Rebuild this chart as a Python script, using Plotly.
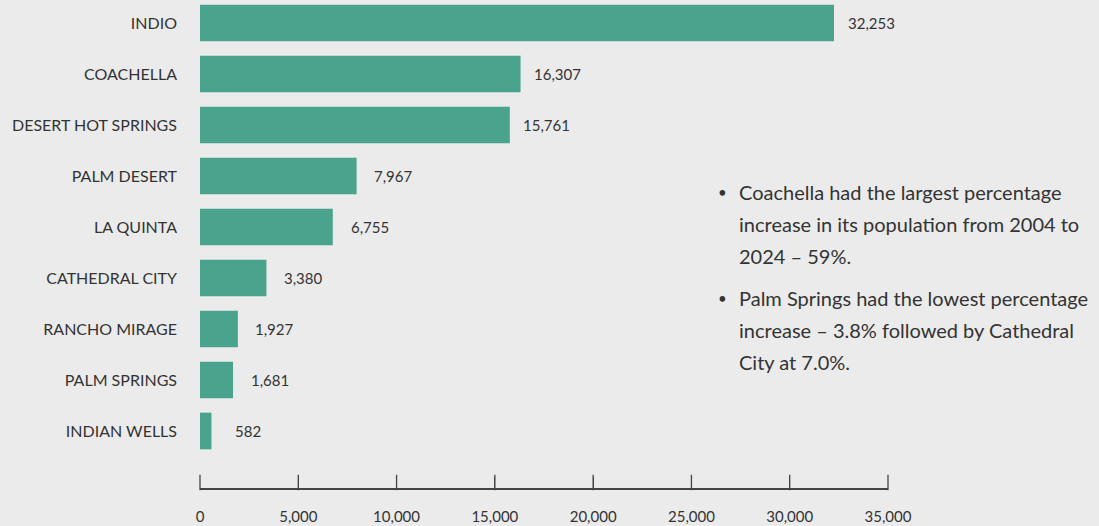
import plotly.graph_objects as go

cities = ["INDIO", "COACHELLA", "DESERT HOT SPRINGS", "PALM DESERT", "LA QUINTA",
          "CATHEDRAL CITY", "RANCHO MIRAGE", "PALM SPRINGS", "INDIAN WELLS"]
growth = [32253, 16307, 15761, 7967, 6755, 3380, 1927, 1681, 582]
x_ticks = [0, 5000, 10000, 15000, 20000, 25000, 30000, 35000]

bullet_lines = [
    ["Coachella had the largest percentage",
     "increase in its population from 2004 to",
     "2024 – 59%."],
    ["Palm Springs had the lowest percentage",
     "increase – 3.8% followed by Cathedral",
     "City at 7.0%."],
]

FONT = "Lato, Open Sans, sans-serif"
BG = "#ebebeb"
TXT = "#333333"
AXC = "#444444"
TICKLEN = 11

W, H = 1099, 526
L, R, T, B = 200, 211, 0, 38
PW, PH = W - L - R, H - T - B


def px_x(x):
    return (x - L) / PW


def px_y(y):
    return (H - B - y) / PH


fig = go.Figure()
fig.add_trace(go.Bar(
    x=growth, y=cities, orientation="h",
    marker=dict(color="#4aa38c", line=dict(width=0)),
    hoverinfo="x+y",
))
# upward tick marks on the x axis (y2 is a hidden pixel-scaled axis)
fig.add_trace(go.Scatter(
    x=x_ticks, y=[TICKLEN / 2] * len(x_ticks), yaxis="y2", mode="markers",
    marker=dict(symbol="line-ns", size=TICKLEN, line=dict(width=1.3, color=AXC)),
    hoverinfo="skip", cliponaxis=False,
))

annotations = []
for c, v in zip(cities, growth):
    annotations.append(dict(x=v, y=c, xref="x", yref="y", text=f"{v:,}",
                            showarrow=False, xanchor="center", xshift=37,
                            font=dict(family=FONT, size=15, color=TXT)))

y0 = 192
for block_i, block in enumerate(bullet_lines):
    for li, line in enumerate(block):
        ypix = y0 + block_i * 106 + li * 32
        annotations.append(dict(x=px_x(737), y=px_y(ypix), xref="paper", yref="paper",
                                text=line, showarrow=False, xanchor="left", yanchor="middle",
                                font=dict(family=FONT, size=20, color=TXT)))
    annotations.append(dict(x=px_x(722), y=px_y(y0 + block_i * 106), xref="paper", yref="paper",
                            text="•", showarrow=False, xanchor="center", yanchor="middle",
                            font=dict(family=FONT, size=15, color=TXT)))

fig.update_layout(
    width=W, height=H,
    margin=dict(l=L, r=R, t=T, b=B, pad=0, autoexpand=False),
    paper_bgcolor=BG, plot_bgcolor=BG,
    bargap=0.28,
    showlegend=False,
    font=dict(family=FONT, color=TXT),
    annotations=annotations,
    xaxis=dict(range=[0, 35000], tickmode="array", tickvals=x_ticks, tickformat=",d",
               showgrid=False, zeroline=False, automargin=False,
               showline=True, linecolor=AXC, linewidth=1.5,
               ticks="inside", ticklen=TICKLEN, tickwidth=1.3, tickcolor=AXC,
               ticklabelstandoff=14,
               tickfont=dict(family=FONT, size=15, color=TXT)),
    yaxis=dict(range=[8 + 57 / 51, -23 / 51], showgrid=False, zeroline=False,
               showline=False, ticks="", ticklabelstandoff=22, automargin=False,
               tickfont=dict(family=FONT, size=16, color=TXT)),
    yaxis2=dict(range=[0, PH], overlaying="y", visible=False, fixedrange=True),
)
fig.update_traces(cliponaxis=False)

fig.write_html("out.html", config={"displayModeBar": False},
               post_script="document.body.style.margin='0';")
